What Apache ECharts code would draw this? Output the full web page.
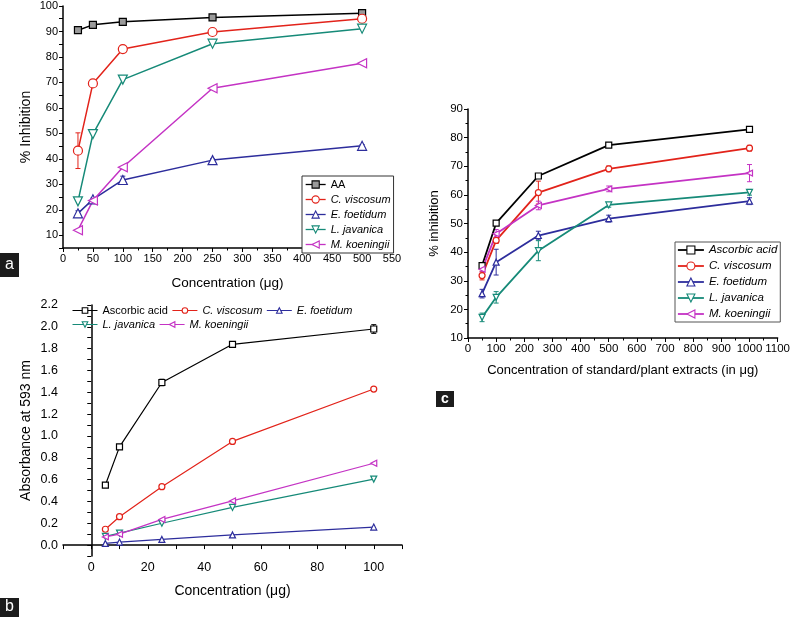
<!DOCTYPE html>
<html>
<head>
<meta charset="utf-8">
<script src="https://cdn.jsdelivr.net/npm/echarts@6/dist/echarts.min.js"></script>
<style>
html, body { margin: 0; padding: 0; background: #fff; }
#chart { width: 793px; height: 617px; }
</style>
</head>
<body>
<div id="chart"></div>
<script>
// panel a - % inhibition vs concentration
var xA = [25, 50, 100, 250, 500];
var aAA = [90.5, 92.6, 93.8, 95.5, 97.2];
var aCv = [43.2, 69.6, 83.1, 89.8, 95.0];
var aEf = [18.6, 24.1, 31.7, 39.5, 45.1];
var aLj = [23.3, 49.7, 71.1, 85.2, 91.1];
var aMk = [12.0, 23.6, 36.7, 67.7, 77.5];
var errACv = [7, 1, 1, 0.5, 0.5];
var errAEf = [1, 0.5, 1.5, 0.5, 0.5];

// panel b - absorbance at 593 nm
var xB = [5, 10, 25, 50, 100];
var bAA = [0.55, 0.90, 1.49, 1.84, 1.98];
var bCv = [0.145, 0.26, 0.535, 0.95, 1.43];
var bEf = [0.015, 0.028, 0.052, 0.093, 0.165];
var bLj = [0.08, 0.11, 0.20, 0.345, 0.605];
var bMk = [0.075, 0.10, 0.235, 0.405, 0.75];
var errBAA = [0.01, 0.02, 0.03, 0.02, 0.04];

// panel c - % inhibition vs concentration of standard/plant extracts
var xC = [50, 100, 250, 500, 1000];
var cAA = [35.3, 50.1, 66.6, 77.4, 82.9];
var cCv = [31.8, 44.1, 60.8, 69.1, 76.3];
var cEf = [25.5, 36.5, 45.8, 51.7, 57.8];
var cLj = [17.2, 24.2, 40.5, 56.5, 60.9];
var cMk = [34.0, 46.4, 56.3, 62.1, 67.6];
var errCCv = [1.5, 1, 4, 1, 1];
var errCEf = [1.5, 4.5, 1.5, 1.2, 1.2];
var errCLj = [1.5, 2, 3.5, 0.8, 1];
var errCMk = [1, 1.5, 1.5, 1, 3];

var FONT = 'Liberation Sans, Arial, sans-serif';
var BLACK = '#000000', RED = '#e2231a', BLUE = '#2d2d9c', TEAL = '#168a78', MAG = '#c433c4';
var DOWN = 'path://M0,0 L10,0 L5,9 Z';
var LEFT = 'path://M9,0 L9,10 L0,5 Z';

function pairs(xs, ys) {
    return xs.map(function (x, i) { return [x, ys[i]]; });
}

function lineSeries(name, xs, ys, color, symbol, size, lw, idx, fill) {
    return {
        name: name, type: 'line', xAxisIndex: idx, yAxisIndex: idx,
        data: pairs(xs, ys), symbol: symbol, symbolSize: size, z: 3,
        lineStyle: { color: color, width: lw },
        itemStyle: { color: fill || '#fff', borderColor: color, borderWidth: 1.2 }
    };
}

function errSeries(xs, ys, errs, color, idx) {
    return {
        type: 'custom', xAxisIndex: idx, yAxisIndex: idx, z: 2, silent: true,
        data: xs.map(function (x, i) { return [x, ys[i], errs[i]]; }),
        renderItem: function (params, api) {
            var x = api.value(0), y = api.value(1), e = api.value(2);
            var hi = api.coord([x, y + e]), lo = api.coord([x, y - e]);
            var st = { stroke: color, lineWidth: 1 };
            return { type: 'group', children: [
                { type: 'line', shape: { x1: hi[0], y1: hi[1], x2: lo[0], y2: lo[1] }, style: st },
                { type: 'line', shape: { x1: hi[0] - 2.5, y1: hi[1], x2: hi[0] + 2.5, y2: hi[1] }, style: st },
                { type: 'line', shape: { x1: lo[0] - 2.5, y1: lo[1], x2: lo[0] + 2.5, y2: lo[1] }, style: st }
            ] };
        }
    };
}

function axis(idx, min, max, interval, fs, fmt, minor) {
    var ax = {
        type: 'value', gridIndex: idx, min: min, max: max, interval: interval,
        splitLine: { show: false },
        axisLine: { lineStyle: { color: BLACK, width: 1.5 } },
        axisTick: { length: 4, lineStyle: { color: BLACK, width: 1 } },
        axisLabel: { color: BLACK, fontSize: fs, fontFamily: FONT, margin: 5, hideOverlap: false,
            showMinLabel: true, showMaxLabel: true,
            formatter: fmt || function (v) { return String(Math.round(v)); } },
        nameLocation: 'middle',
        nameTextStyle: { color: BLACK, fontFamily: FONT }
    };
    if (minor) ax.minorTick = { show: true, splitNumber: minor, length: 2.5, lineStyle: { color: BLACK } };
    return ax;
}

var yAfmt = function (v) { return Math.round(v) % 10 === 0 ? String(Math.round(v)) : ''; };
var yBfmt = function (v) { var k = Math.round(v * 10); return (k % 2 === 0 && k >= 0) ? (k / 10).toFixed(1) : ''; };
var xBfmt = function (v) { var k = Math.round(v); return (k % 20 === 0 && k >= 0) ? String(k) : ''; };

var xa0 = axis(0, 0, 550, 50, 11, null, 2);
xa0.name = 'Concentration (μg)'; xa0.nameGap = 28; xa0.nameTextStyle.fontSize = 13.5;
var xa1 = axis(1, -10, 110, 10, 12.5, xBfmt, 0);
xa1.name = 'Concentration (μg)'; xa1.nameGap = 28; xa1.nameTextStyle.fontSize = 14;
var xa2 = axis(2, 0, 1100, 100, 11.5, null, 2);
xa2.name = 'Concentration of standard/plant extracts (in μg)'; xa2.nameGap = 26; xa2.nameTextStyle.fontSize = 13;

var ya0 = axis(0, 5, 100, 5, 11, yAfmt, 0);
ya0.name = '% Inhibition'; ya0.nameGap = 30; ya0.nameTextStyle.fontSize = 14;
var ya1 = axis(1, -0.1, 2.2, 0.1, 12.5, yBfmt, 0);
ya1.name = 'Absorbance at 593 nm'; ya1.nameGap = 30; ya1.nameTextStyle.fontSize = 14;
var ya2 = axis(2, 10, 90, 10, 11.5, null, 2);
ya2.name = '% inhibition'; ya2.nameGap = 27; ya2.nameTextStyle.fontSize = 13;

var legendText = { color: BLACK, fontFamily: FONT, fontStyle: 'italic' };
var legendLine = { width: 1.3 };
var legendItem = { borderWidth: 1.1 };

var option = {
    animation: false,
    backgroundColor: '#fff',
    grid: [
        { left: 63, top: 6, width: 329, height: 242 },
        { left: 63, top: 305, width: 339, height: 251 },
        { left: 468, top: 109, width: 310, height: 229 }
    ],
    xAxis: [xa0, xa1, xa2],
    yAxis: [ya0, ya1, ya2],
    legend: [
        {
            orient: 'vertical', left: 302, top: 176, padding: [3, 3, 3, 3],
            itemWidth: 20, itemHeight: 9, itemGap: 4,
            borderColor: '#333', borderWidth: 1, backgroundColor: '#fff',
            lineStyle: legendLine, itemStyle: legendItem,
            textStyle: Object.assign({ fontSize: 11 }, legendText),
            data: [{ name: 'AA', textStyle: { fontStyle: 'normal' } }, 'C. viscosum', 'E. foetidum', 'L. javanica', 'M. koeningii']
        },
        {
            orient: 'horizontal', left: 72, top: 305, padding: 0,
            itemWidth: 25, itemHeight: 7, itemGap: 4,
            lineStyle: { width: 1 }, itemStyle: legendItem,
            textStyle: Object.assign({ fontSize: 11 }, legendText),
            data: [{ name: 'Ascorbic acid', textStyle: { fontStyle: 'normal' } }, 'C. viscosum', 'E. foetidum']
        },
        {
            orient: 'horizontal', left: 72, top: 319, padding: 0,
            itemWidth: 25, itemHeight: 7, itemGap: 4,
            lineStyle: { width: 1 }, itemStyle: legendItem,
            textStyle: Object.assign({ fontSize: 11 }, legendText),
            data: ['L. javanica', 'M. koeningii']
        },
        {
            orient: 'vertical', left: 675, top: 242, padding: [2, 3, 2, 2],
            itemWidth: 26, itemHeight: 10, itemGap: 4,
            borderColor: '#555', borderWidth: 1, backgroundColor: '#fff',
            lineStyle: { width: 1.8 }, itemStyle: legendItem,
            textStyle: Object.assign({ fontSize: 11.5 }, legendText),
            data: ['Ascorbic acid', 'C. viscosum', 'E. foetidum', 'L. javanica', 'M. koeningii']
        }
    ],
    graphic: [
        { type: 'rect', shape: { x: 0, y: 253, width: 19, height: 24 }, style: { fill: '#1c1c1c' } },
        { type: 'text', x: 9.5, y: 265, style: { text: 'a', fill: '#fff', font: '16px ' + FONT, align: 'center', verticalAlign: 'middle' } },
        { type: 'rect', shape: { x: 0, y: 598, width: 19, height: 19 }, style: { fill: '#1c1c1c' } },
        { type: 'text', x: 9.5, y: 607, style: { text: 'b', fill: '#fff', font: '16px ' + FONT, align: 'center', verticalAlign: 'middle' } },
        { type: 'rect', shape: { x: 436, y: 391, width: 18, height: 16 }, style: { fill: '#1c1c1c' } },
        { type: 'text', x: 445, y: 399, style: { text: 'c', fill: '#fff', font: 'bold 14px ' + FONT, align: 'center', verticalAlign: 'middle' } }
    ],
    series: [
        lineSeries('AA', xA, aAA, BLACK, 'rect', 7, 1.5, 0, '#9a9a9a'),
        lineSeries('C. viscosum', xA, aCv, RED, 'circle', 9, 1.5, 0),
        lineSeries('E. foetidum', xA, aEf, BLUE, 'triangle', 9, 1.5, 0),
        lineSeries('L. javanica', xA, aLj, TEAL, DOWN, 9, 1.5, 0),
        lineSeries('M. koeningii', xA, aMk, MAG, LEFT, 9, 1.5, 0),
        errSeries(xA, aCv, errACv, RED, 0),
        errSeries(xA, aEf, errAEf, BLUE, 0),

        lineSeries('Ascorbic acid', xB, bAA, BLACK, 'rect', 6, 1.2, 1),
        lineSeries('C. viscosum', xB, bCv, RED, 'circle', 6, 1.2, 1),
        lineSeries('E. foetidum', xB, bEf, BLUE, 'triangle', 6, 1.2, 1),
        lineSeries('L. javanica', xB, bLj, TEAL, DOWN, 6, 1.2, 1),
        lineSeries('M. koeningii', xB, bMk, MAG, LEFT, 6, 1.2, 1),
        errSeries(xB, bAA, errBAA, BLACK, 1),

        lineSeries('Ascorbic acid', xC, cAA, BLACK, 'rect', 6, 1.8, 2),
        lineSeries('C. viscosum', xC, cCv, RED, 'circle', 6, 1.8, 2),
        lineSeries('E. foetidum', xC, cEf, BLUE, 'triangle', 6, 1.8, 2),
        lineSeries('L. javanica', xC, cLj, TEAL, DOWN, 6, 1.8, 2),
        lineSeries('M. koeningii', xC, cMk, MAG, LEFT, 6, 1.8, 2),
        errSeries(xC, cCv, errCCv, RED, 2),
        errSeries(xC, cEf, errCEf, BLUE, 2),
        errSeries(xC, cLj, errCLj, TEAL, 2),
        errSeries(xC, cMk, errCMk, MAG, 2)
    ]
};

var myChart = echarts.init(document.getElementById('chart'));
myChart.setOption(option);
</script>
</body>
</html>
